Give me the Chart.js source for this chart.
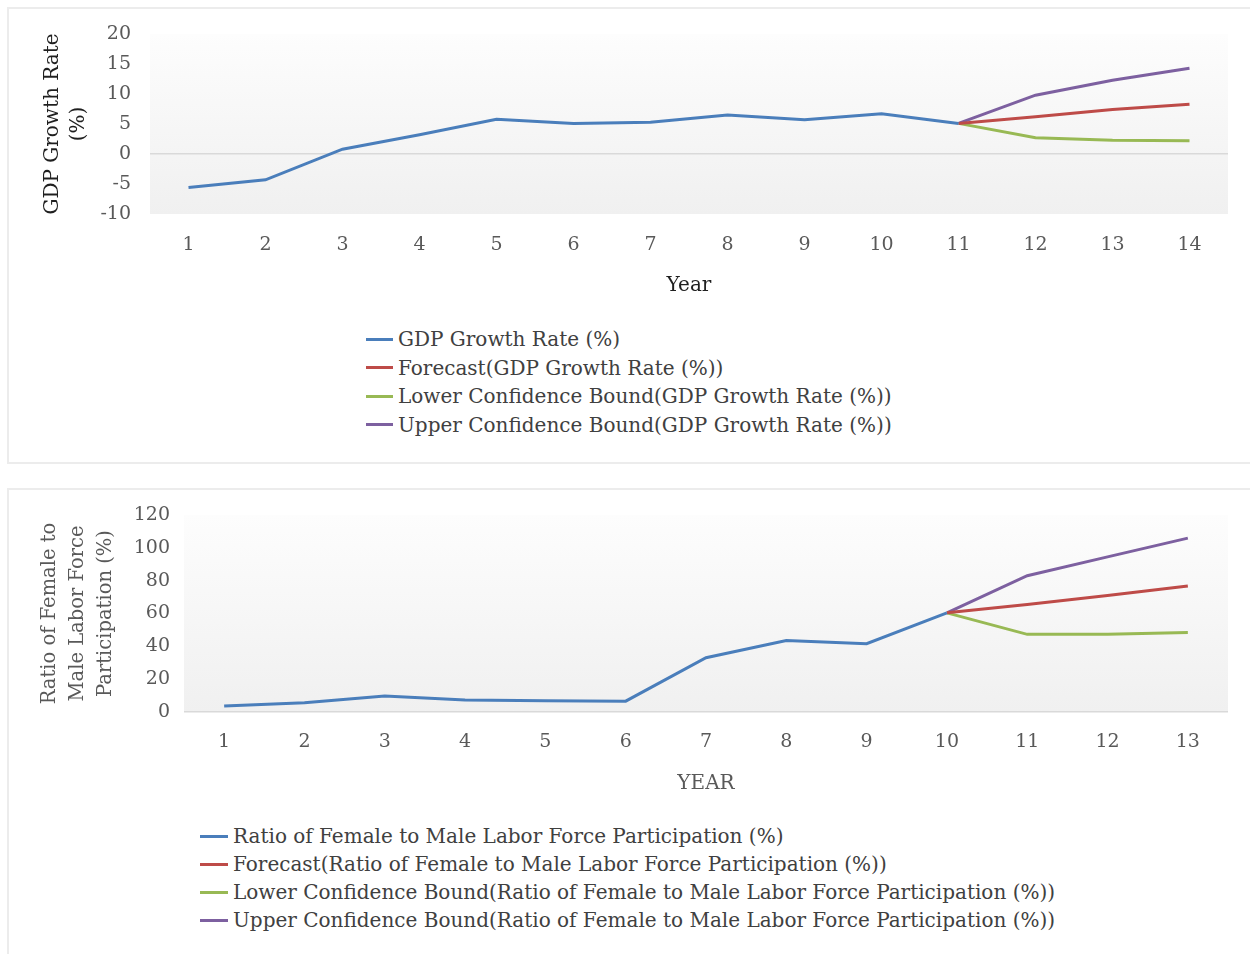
<!DOCTYPE html>
<html>
<head>
<meta charset="utf-8">
<script src="https://cdn.jsdelivr.net/npm/chart.js@4.4.1/dist/chart.umd.min.js"></script>
<style>
  body { margin: 0; background: #fff; width: 1250px; height: 954px; overflow: hidden; position: relative; font-family: "DejaVu Serif", serif; }
  .card { position: absolute; left: 7px; width: 1260px; border: 2px solid #ececec; box-sizing: border-box; }
  #card1 { top: 7px; height: 457px; }
  #card2 { top: 488px; height: 490px; }
  .box { position: absolute; left: 0; width: 1250px; }
  #box1 { top: 0; height: 300px; }
  #box2 { top: 480px; height: 320px; }
  .legend { position: absolute; color: #404040; }
  .legend .row { display: flex; align-items: center; white-space: nowrap; }
  .legend .mark { display: inline-block; height: 3px; margin-right: 5px; }
  #legend1 { left: 366px; top: 325px; font-size: 20px; }
  #legend1 .row { height: 28.5px; }
  #legend1 .mark { width: 27px; }
  #legend2 { left: 200px; top: 822px; font-size: 20px; }
  #legend2 .row { height: 28px; }
  #legend2 .mark { width: 28px; }
</style>
</head>
<body>
<div class="card" id="card1"></div>
<div class="card" id="card2"></div>
<div class="box" id="box1"><canvas id="chart1"></canvas></div>
<div class="box" id="box2"><canvas id="chart2"></canvas></div>
<div class="legend" id="legend1"></div>
<div class="legend" id="legend2"></div>
<script>
// chart 1 - GDP growth
const years1 = ['1', '2', '3', '4', '5', '6', '7', '8', '9', '10', '11', '12', '13', '14'];
const gdpActual = [-5.6, -4.3, 0.8, 3.2, 5.8, 5.1, 5.3, 6.5, 5.7, 6.7, 5.1, null, null, null];
const gdpForecast = [null, null, null, null, null, null, null, null, null, null, 5.1, 6.2, 7.4, 8.3];
const gdpLower = [null, null, null, null, null, null, null, null, null, null, 5.1, 2.7, 2.3, 2.2];
const gdpUpper = [null, null, null, null, null, null, null, null, null, null, 5.1, 9.8, 12.3, 14.3];

// chart 2 - female / male labor force ratio
const years2 = ['1', '2', '3', '4', '5', '6', '7', '8', '9', '10', '11', '12', '13'];
const ratioActual = [3.6, 5.6, 9.7, 7.3, 6.8, 6.6, 33.1, 43.6, 41.6, 60.4, null, null, null];
const ratioForecast = [null, null, null, null, null, null, null, null, null, 60.4, 65.5, 70.9, 76.8];
const ratioLower = [null, null, null, null, null, null, null, null, null, 60.4, 47.3, 47.3, 48.5];
const ratioUpper = [null, null, null, null, null, null, null, null, null, 60.4, 83.0, 94.5, 105.9];

const colors = ['#4a7ebb', '#be4b48', '#98b954', '#7d60a0'];

const plotBg = {
    id: 'plotBg',
    beforeDraw(chart) {
        const { ctx, chartArea: a } = chart;
        const g = ctx.createLinearGradient(0, a.top, 0, a.bottom);
        g.addColorStop(0, '#fdfdfd');
        g.addColorStop(1, '#f0f0f0');
        ctx.save();
        ctx.fillStyle = g;
        ctx.fillRect(a.left, a.top, a.right - a.left, a.bottom - a.top);
        ctx.restore();
    }
};

const buildLegend = (chart, id) => {
    const el = document.getElementById(id);
    chart.data.datasets.forEach(ds => {
        const row = document.createElement('div');
        row.className = 'row';
        const mark = document.createElement('span');
        mark.className = 'mark';
        mark.style.background = ds.borderColor;
        row.appendChild(mark);
        row.appendChild(document.createTextNode(ds.label));
        el.appendChild(row);
    });
};

const makeChart = (id, legendId, cfg) => {
    const ctx = document.getElementById(id).getContext('2d');
    const chart = new Chart(ctx, {
        type: 'line',
        data: {
            labels: cfg.labels,
            datasets: cfg.series.map((s, i) => ({
                label: s.label,
                data: s.data,
                borderColor: colors[i],
                backgroundColor: colors[i],
                borderWidth: 3,
                pointRadius: 0,
                tension: 0,
                spanGaps: false
            }))
        },
        options: {
            responsive: true,
            maintainAspectRatio: false,
            animation: false,
            layout: { padding: { top: cfg.padTop, right: 22, left: 0, bottom: 0 } },
            plugins: { legend: { display: false }, tooltip: { enabled: false } },
            scales: {
                x: {
                    offset: true,
                    grid: { display: false, drawTicks: false },
                    border: { display: false },
                    ticks: { color: '#595959', padding: cfg.xTickPad, font: { family: 'DejaVu Serif', size: 19 } },
                    title: {
                        display: true, text: cfg.xTitle, color: cfg.titleColor,
                        font: { family: 'DejaVu Serif', size: 20 }, padding: { top: 0, bottom: cfg.xTitlePad }
                    },
                    afterFit: s => { s.height = cfg.xHeight; }
                },
                y: {
                    min: cfg.yMin, max: cfg.yMax,
                    grid: {
                        drawTicks: false,
                        lineWidth: 1.5,
                        color: c => (c.tick && c.tick.value === 0 ? '#d9d9d9' : 'rgba(0,0,0,0)')
                    },
                    border: { display: false },
                    ticks: { stepSize: cfg.step, color: '#595959', padding: cfg.yTickPad, font: { family: 'DejaVu Serif', size: 19 } },
                    title: {
                        display: true, text: cfg.yTitle, color: cfg.titleColor,
                        font: { family: 'DejaVu Serif', size: cfg.yTitleSize, lineHeight: cfg.yTitleLH },
                        padding: { top: cfg.yTitlePad, bottom: 0 }
                    },
                    afterFit: s => { s.width = cfg.yWidth; }
                }
            }
        },
        plugins: [plotBg]
    });
    buildLegend(chart, legendId);
    return chart;
};

makeChart('chart1', 'legend1', {
    labels: years1,
    series: [
        { label: 'GDP Growth Rate (%)', data: gdpActual },
        { label: 'Forecast(GDP Growth Rate (%))', data: gdpForecast },
        { label: 'Lower Confidence Bound(GDP Growth Rate (%))', data: gdpLower },
        { label: 'Upper Confidence Bound(GDP Growth Rate (%))', data: gdpUpper }
    ],
    padTop: 34, xHeight: 86, xTickPad: 20, xTitlePad: 2, xTitle: 'Year', titleColor: '#1f1f1f',
    yMin: -10, yMax: 20, step: 5, yWidth: 150, yTickPad: 19,
    yTitle: ['GDP Growth Rate', '(%)'], yTitleSize: 20, yTitleLH: 1.3, yTitlePad: 40
});

makeChart('chart2', 'legend2', {
    labels: years2,
    series: [
        { label: 'Ratio of Female to Male Labor Force Participation (%)', data: ratioActual },
        { label: 'Forecast(Ratio of Female to Male Labor Force Participation (%))', data: ratioForecast },
        { label: 'Lower Confidence Bound(Ratio of Female to Male Labor Force Participation (%))', data: ratioLower },
        { label: 'Upper Confidence Bound(Ratio of Female to Male Labor Force Participation (%))', data: ratioUpper }
    ],
    padTop: 35, xHeight: 88, xTickPad: 19, xTitlePad: 4, xTitle: 'YEAR', titleColor: '#595959',
    yMin: 0, yMax: 120, step: 20, yWidth: 184, yTickPad: 14,
    yTitle: ['Ratio of Female to', 'Male Labor Force', 'Participation (%)'], yTitleSize: 19.5, yTitleLH: 1.44, yTitlePad: 36
});
</script>
</body>
</html>
